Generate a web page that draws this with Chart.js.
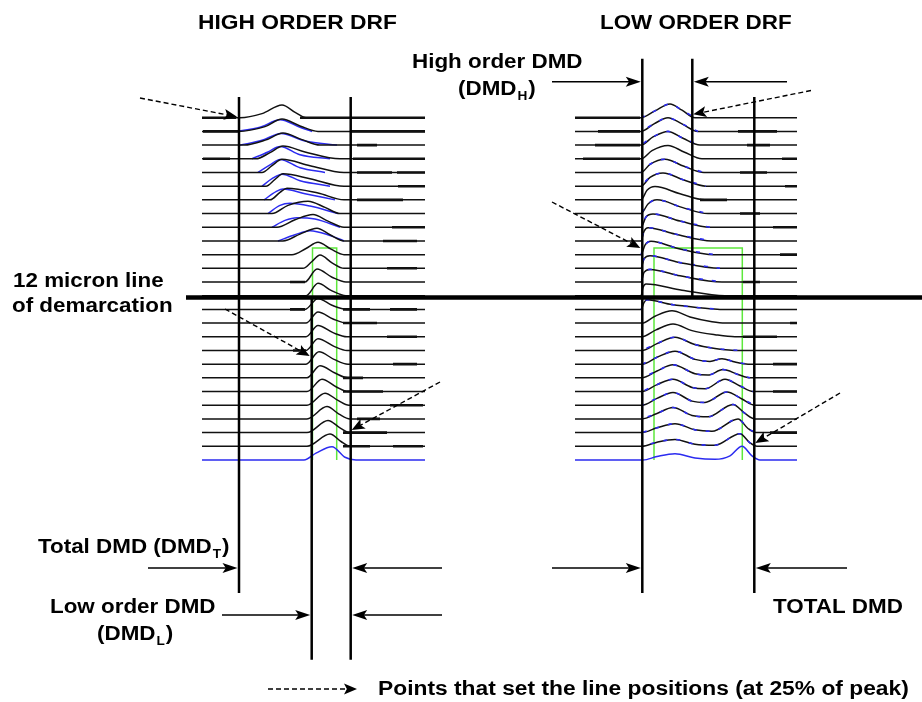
<!DOCTYPE html>
<html>
<head>
<meta charset="utf-8">
<script src="https://cdn.jsdelivr.net/npm/chart.js@4.4.1/dist/chart.umd.min.js"></script>
<style>
  html, body { margin: 0; padding: 0; background: #fff; }
  #wrap { width: 922px; height: 702px; position: relative; }
</style>
</head>
<body>
<div id="wrap"><canvas id="drf"></canvas></div>
<script>
// Waterfall of DMD pulses: row 0 = outermost launch offset, row 25 = centre.
// Each profile point is [delay, amplitude relative to row spacing].
const rowCount = 26;
const highOrderSpan = [202, 425];
const lowOrderSpan = [575, 797];

const highOrderRows = [
  [[240, 0], [262, 0.3], [282, 0.93], [296, 0.35], [306, 0]],
  [[238, 0], [265, 0.35], [282, 0.9], [300, 0.4], [318, 0]],
  [[244, 0], [266, 0.38], [283, 0.88], [302, 0.4], [320, 0]],
  [[256, 0], [270, 0.45], [283, 0.93], [305, 0.5], [340, 0]],
  [[262, 0], [272, 0.5], [282, 0.97], [310, 0.5], [344, 0]],
  [[266, 0], [275, 0.5], [283, 0.9], [310, 0.55], [344, 0]],
  [[270, 0], [280, 0.55], [287, 0.85], [318, 0.5], [344, 0]],
  [[272, 0], [288, 0.6], [308, 0.9], [325, 0.45], [340, 0]],
  [[277, 0], [295, 0.55], [313, 0.93], [328, 0.45], [344, 0]],
  [[283, 0], [300, 0.5], [317, 0.93], [330, 0.45], [344, 0]],
  [[292, 0], [306, 0.45], [318, 0.9], [331, 0.4], [344, 0]],
  [[303, 0], [312, 0.5], [320, 0.97], [332, 0.4], [344, 0]],
  [[305, 0], [317, 0.95], [332, 0.35], [346, 0]],
  [[306, 0], [318, 0.9], [332, 0.35], [346, 0]],
  [[305, 0], [318, 0.8], [332, 0.3], [347, 0]],
  [[306, 0], [318, 0.8], [333, 0.3], [347, 0]],
  [[306, 0], [318, 0.82], [333, 0.3], [347, 0]],
  [[306, 0], [318, 0.85], [334, 0.3], [347, 0]],
  [[306, 0], [319, 0.9], [334, 0.35], [348, 0]],
  [[307, 0], [320, 0.88], [335, 0.35], [348, 0]],
  [[307, 0], [322, 0.9], [336, 0.35], [348, 0]],
  [[307, 0], [325, 0.88], [338, 0.35], [349, 0]],
  [[307, 0], [327, 0.9], [339, 0.35], [350, 0]],
  [[307, 0], [328, 0.88], [340, 0.35], [350, 0]],
  [[307, 0], [330, 0.9], [341, 0.35], [350, 0]],
  [[304, 0], [316, 0.5], [332, 0.97], [345, 0.2], [356, 0]]
];

// second (blue) trace under the black one, outer launches only
const highOrderBlue = [
  [1, [[236, 0], [260, 0.3], [280, 0.85], [300, 0.3], [312, 0]]],
  [2, [[240, 0], [262, 0.35], [281, 0.85], [305, 0.3], [337, 0]]],
  [3, [[252, 0], [268, 0.5], [280, 0.9], [300, 0.3], [330, 0]]],
  [4, [[258, 0], [270, 0.55], [280, 0.95], [300, 0.35], [325, 0]]],
  [5, [[262, 0], [272, 0.55], [282, 0.88], [300, 0.4], [330, 0]]],
  [6, [[264, 0], [276, 0.6], [283, 0.8], [305, 0.45], [335, 0]]],
  [7, [[268, 0], [280, 0.6], [290, 0.75], [310, 0.55], [338, 0]]],
  [8, [[272, 0], [285, 0.5], [297, 0.7], [315, 0.6], [340, 0]]],
  [9, [[278, 0], [295, 0.45], [310, 0.75], [330, 0.4], [344, 0]]]
];

const lowOrderRows = [
  [[641, 0], [655, 0.5], [670, 1.0], [682, 0.55], [695, 0]],
  [[641, 0], [654, 0.55], [668, 1.0], [682, 0.55], [698, 0]],
  [[641, 0], [653, 0.6], [668, 1.0], [683, 0.5], [700, 0]],
  [[641, 0], [652, 0.6], [668, 0.97], [684, 0.5], [702, 0]],
  [[641, 0], [650, 0.6], [665, 0.97], [684, 0.45], [704, 0]],
  [[641, 0], [650, 0.65], [663, 0.97], [684, 0.45], [706, 0]],
  [[641, 0], [647, 0.7], [655, 0.97], [680, 0.45], [705, 0]],
  [[641, 0], [648, 0.7], [657, 1.0], [682, 0.45], [708, 0]],
  [[641, 0], [646, 0.75], [653, 0.97], [680, 0.45], [710, 0]],
  [[641, 0], [644, 0.7], [648, 0.97], [675, 0.5], [712, 0]],
  [[641, 0], [645, 0.7], [651, 0.97], [678, 0.45], [714, 0]],
  [[641, 0], [644, 0.7], [650, 0.92], [678, 0.45], [720, 0]],
  [[641, 0], [644, 0.7], [650, 0.92], [680, 0.45], [722, 0]],
  [[641, 0], [643, 0.6], [646, 0.85], [682, 0.4], [725, 0]],
  [[641, 0], [644, 0.5], [647, 0.7], [672, 0.35], [700, 0.12], [720, 0]],
  [[642, 0], [655, 0.5], [672, 0.9], [690, 0.45], [712, 0.1], [725, 0]],
  [[642, 0], [656, 0.5], [673, 0.93], [692, 0.45], [715, 0.15], [735, 0]],
  [[642, 0], [657, 0.5], [675, 0.97], [694, 0.45], [715, 0.15], [740, 0]],
  [[642, 0], [657, 0.5], [675, 0.95], [695, 0.35], [710, 0.2], [722, 0.4], [735, 0.15], [748, 0]],
  [[642, 0], [657, 0.5], [673, 0.95], [695, 0.3], [708, 0.2], [723, 0.6], [738, 0.25], [750, 0]],
  [[642, 0], [657, 0.5], [673, 0.9], [692, 0.3], [705, 0.2], [725, 0.9], [740, 0.4], [753, 0]],
  [[642, 0], [657, 0.5], [673, 0.93], [692, 0.3], [705, 0.2], [727, 0.97], [742, 0.45], [755, 0]],
  [[642, 0], [657, 0.4], [673, 0.83], [692, 0.25], [708, 0.15], [733, 1.05], [745, 0.4], [755, 0]],
  [[642, 0], [657, 0.35], [675, 0.65], [695, 0.2], [712, 0.1], [738, 1.0], [748, 0.3], [756, 0]],
  [[642, 0], [657, 0.3], [675, 0.5], [695, 0.15], [715, 0.08], [740, 0.92], [750, 0.25], [757, 0]],
  [[643, 0], [657, 0.25], [675, 0.45], [695, 0.15], [715, 0.05], [730, 0.3], [742, 1.0], [752, 0.3], [760, 0]]
];
const lowOrderBlueRows = [0, 1, 2, 4, 5, 7, 8, 9, 10, 11, 12, 14, 17, 18, 19, 20, 21, 22, 23, 24];

// noisy, heavier stretches of the baselines: [row, from, to]
const highOrderMarks = [
  [0, 202, 236], [0, 300, 425], [1, 203, 238], [1, 350, 425], [2, 357, 377],
  [3, 203, 230], [3, 353, 425], [4, 357, 392], [4, 397, 425], [5, 398, 425],
  [6, 357, 403], [8, 392, 425], [9, 383, 417], [11, 387, 417], [12, 290, 305],
  [14, 290, 305], [14, 343, 370], [14, 390, 417], [15, 343, 377], [16, 387, 417],
  [17, 293, 306], [18, 393, 417], [19, 343, 363], [20, 343, 383], [21, 390, 423],
  [22, 357, 380], [23, 343, 387], [24, 343, 370], [24, 393, 423]
];
const lowOrderMarks = [
  [0, 575, 640], [1, 598, 640], [1, 738, 777], [2, 595, 640], [2, 747, 770],
  [3, 583, 640], [3, 782, 797], [4, 740, 767], [5, 785, 797], [6, 700, 727],
  [7, 740, 760], [8, 773, 797], [10, 780, 797], [12, 743, 760], [15, 790, 797],
  [16, 743, 777], [18, 773, 797], [20, 773, 797], [23, 770, 797]
];

// 25%-of-peak marker lines and their vertical extent (rows)
const highOrderLineX = [239, 311.7, 350.7];
const highOrderLineTop = [-1.52, 13.1, -1.52];
const highOrderLineBottom = [34.72, 39.6, 39.6];
const lowOrderLineX = [642.3, 692.3, 754.3];
const lowOrderLineTop = [-4.3, -4.3, -1.52];
const lowOrderLineBottom = [34.72, 13.1, 34.72];

const demarcationRow = 13.13;
const demarcationSpan = [186, 922];
const highOrderWindow = [312.5, 336.7];
const lowOrderWindow = [654, 742.3];
const windowRows = [9.52, 25];

const BLACK = '#111';
const BLUE = '#2b2bf0';
const GREEN = '#5ee83c';

function profile(row, pts, span) {
  const out = [];
  if (span) out.push({ x: span[0], y: row });
  pts.forEach(([x, a]) => out.push({ x, y: row - a }));
  if (span) out.push({ x: span[1], y: row });
  return out;
}

function trace(data, color, width, order, extra) {
  return Object.assign({
    data, borderColor: color, borderWidth: width, order,
    showLine: true, pointRadius: 0, cubicInterpolationMode: 'monotone'
  }, extra || {});
}

function segments(list, toPts) {
  const data = [];
  list.forEach(item => { toPts(item).forEach(p => data.push(p)); data.push({ x: null, y: null }); });
  return data;
}

const datasets = [];

// pulse rows
highOrderRows.forEach((pts, row) => {
  const col = row === rowCount - 1 ? BLUE : BLACK;
  datasets.push(trace(profile(row, pts, highOrderSpan), col, 1.5, 3));
});
lowOrderRows.forEach((pts, row) => {
  const col = row === rowCount - 1 ? BLUE : BLACK;
  datasets.push(trace(profile(row, pts, lowOrderSpan), col, 1.5, 3));
});
highOrderBlue.forEach(([row, pts]) => {
  datasets.push(trace(profile(row, pts), BLUE, 1.5, 4));
});
lowOrderBlueRows.forEach((row, i) => {
  datasets.push(trace(profile(row, lowOrderRows[row]), BLUE, 1.6, 2,
    { borderDash: [4, 9], borderDashOffset: (i * 5) % 13 }));
});

// heavier baseline stretches
datasets.push(trace(segments(highOrderMarks, ([r, a, b]) => [{ x: a, y: r }, { x: b, y: r }]),
  BLACK, 2.6, 2, { cubicInterpolationMode: 'default', tension: 0, spanGaps: false }));
datasets.push(trace(segments(lowOrderMarks, ([r, a, b]) => [{ x: a, y: r }, { x: b, y: r }]),
  BLACK, 2.6, 2, { cubicInterpolationMode: 'default', tension: 0, spanGaps: false }));

// analysis windows
[highOrderWindow, lowOrderWindow].forEach(w => {
  datasets.push(trace([
    { x: w[0], y: windowRows[1] }, { x: w[0], y: windowRows[0] },
    { x: w[1], y: windowRows[0] }, { x: w[1], y: windowRows[1] }
  ], GREEN, 1.5, 5, { cubicInterpolationMode: 'default', tension: 0 }));
});

// marker lines and 12 micron demarcation
const markerPts = [];
highOrderLineX.forEach((x, i) => markerPts.push([x, highOrderLineTop[i], highOrderLineBottom[i]]));
lowOrderLineX.forEach((x, i) => markerPts.push([x, lowOrderLineTop[i], lowOrderLineBottom[i]]));
datasets.push(trace(segments(markerPts, ([x, t, b]) => [{ x, y: t }, { x, y: b }]),
  '#000', 2.5, 0, { cubicInterpolationMode: 'default', tension: 0, spanGaps: false }));
datasets.push(trace([{ x: demarcationSpan[0], y: demarcationRow }, { x: demarcationSpan[1], y: demarcationRow }],
  '#000', 4.5, 0, { cubicInterpolationMode: 'default', tension: 0 }));

const FONT = '"Liberation Sans", Arial, sans-serif';

function label(ctx, str, x, y, size, sx) {
  ctx.save();
  ctx.font = `bold ${size}px ${FONT}`;
  ctx.fillStyle = '#000';
  ctx.textBaseline = 'alphabetic';
  ctx.translate(x, y);
  ctx.scale(sx, 1);
  ctx.fillText(str, 0, 0);
  const w = ctx.measureText(str).width * sx;
  ctx.restore();
  return x + w;
}

function subLabel(ctx, main, sub, x, y) {
  let cx = label(ctx, main, x, y, 20, 1.12);
  cx = label(ctx, sub, cx + 1, y + 5, 13, 1.05);
  label(ctx, ')', cx + 1, y, 20, 1.12);
}

function arrow(ctx, x1, y1, x2, y2, dashed) {
  const ang = Math.atan2(y2 - y1, x2 - x1);
  const len = dashed ? 13 : 15, half = dashed ? 5.5 : 5;
  ctx.save();
  ctx.strokeStyle = '#000';
  ctx.fillStyle = '#000';
  ctx.lineWidth = dashed ? 1.4 : 1.6;
  ctx.setLineDash(dashed ? [5, 3] : []);
  ctx.beginPath();
  ctx.moveTo(x1, y1);
  ctx.lineTo(x2 - Math.cos(ang) * len * 0.7, y2 - Math.sin(ang) * len * 0.7);
  ctx.stroke();
  ctx.setLineDash([]);
  ctx.translate(x2, y2);
  ctx.rotate(ang);
  ctx.beginPath();
  ctx.moveTo(0, 0);
  ctx.lineTo(-len, -half);
  ctx.lineTo(-len * 0.78, 0);
  ctx.lineTo(-len, half);
  ctx.closePath();
  ctx.fill();
  ctx.restore();
}

const annotate = {
  id: 'annotate',
  afterDatasetsDraw(chart) {
    const ctx = chart.ctx;
    const xs = chart.scales.x, ys = chart.scales.y;
    const px = v => xs.getPixelForValue(v);
    const py = v => ys.getPixelForValue(v);

    label(ctx, 'HIGH ORDER DRF', 198, 28.5, 20, 1.14);
    label(ctx, 'LOW ORDER DRF', 600, 28.5, 20, 1.12);
    label(ctx, 'High order DMD', 412, 67.5, 20, 1.12);
    subLabel(ctx, '(DMD', 'H', 458, 95);
    label(ctx, '12 micron line', 13, 286.5, 20, 1.12);
    label(ctx, 'of demarcation', 12, 312, 20, 1.12);
    subLabel(ctx, 'Total DMD (DMD', 'T', 38, 553);
    label(ctx, 'Low order DMD', 50, 613, 20, 1.12);
    subLabel(ctx, '(DMD', 'L', 97, 640);
    label(ctx, 'TOTAL DMD', 773, 613, 20, 1.12);
    label(ctx, 'Points that set the line positions (at 25% of peak)', 378, 695, 20, 1.14);

    // DMD spans between the marker lines
    const [hT, hL, hR] = highOrderLineX.map(px);
    const [lL, lH, lR] = lowOrderLineX.map(px);
    arrow(ctx, 552, 81.7, lL - 1.5, 81.7);
    arrow(ctx, 787, 81.7, lH + 1.5, 81.7);
    arrow(ctx, 148, 568, hT - 1.5, 568);
    arrow(ctx, 442, 568, hR + 1.5, 568);
    arrow(ctx, 222, 615, hL - 1.5, 615);
    arrow(ctx, 442, 615, hR + 1.5, 615);
    arrow(ctx, 552, 568, lL - 1.5, 568);
    arrow(ctx, 847, 568, lR + 1.5, 568);

    // 25% of peak pointers
    arrow(ctx, 140, 98, hT - 2, py(-0.07), true);
    arrow(ctx, 811, 90.5, lH + 1, py(-0.25), true);
    arrow(ctx, 225, 309, hL - 2, 356, true);
    arrow(ctx, 440, 382, hR + 1, 430, true);
    arrow(ctx, 552, 202, lL - 2, 248, true);
    arrow(ctx, 840, 393, lR + 1, 443, true);
    arrow(ctx, 268, 689, 357, 689, true);
  }
};

new Chart(document.getElementById('drf'), {
  type: 'scatter',
  data: { datasets },
  options: {
    responsive: true,
    maintainAspectRatio: false,
    devicePixelRatio: 1,
    animation: false,
    layout: { padding: 0 },
    plugins: { legend: { display: false }, tooltip: { enabled: false } },
    scales: {
      x: { type: 'linear', min: 0, max: 922, display: false },
      y: { type: 'linear', min: -8.6, max: 42.68, reverse: true, display: false }
    }
  },
  plugins: [annotate]
});
</script>
</body>
</html>
